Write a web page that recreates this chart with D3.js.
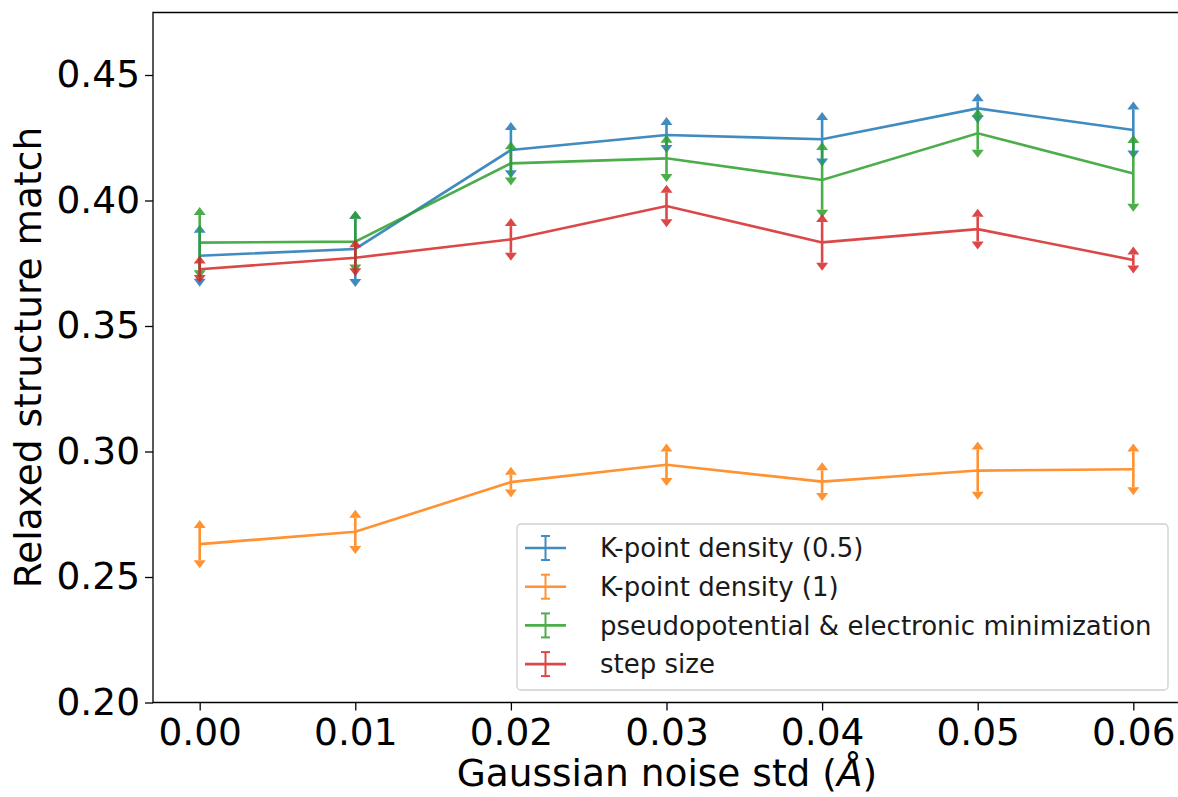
<!DOCTYPE html>
<html><head><meta charset="utf-8">
<script src="https://cdn.jsdelivr.net/npm/d3@7"></script>
<style>body{margin:0;background:#fff;} svg{display:block;font-family:"DejaVu Sans",sans-serif;}</style>
</head><body>
<svg id="chart" width="1178" height="797"></svg>
<script>
const noise = [0.00, 0.01, 0.02, 0.03, 0.04, 0.05, 0.06];
const seriesNames = ["K-point density (0.5)", "K-point density (1)", "pseudopotential & electronic minimization", "step size"];
const kp05 = [0.3780, 0.3807, 0.4201, 0.4261, 0.4244, 0.4367, 0.4281];
const kp05Err = [0.0092, 0.0120, 0.0080, 0.0040, 0.0077, 0.0028, 0.0082];
const kp1 = [0.2631, 0.2680, 0.2878, 0.2947, 0.2880, 0.2924, 0.2929];
const kp1Err = [0.0064, 0.0056, 0.0029, 0.0053, 0.0045, 0.0084, 0.0071];
const pseudo = [0.3832, 0.3836, 0.4148, 0.4168, 0.4082, 0.4268, 0.4108];
const pseudoErr = [0.0110, 0.0091, 0.0056, 0.0062, 0.0119, 0.0066, 0.0121];
const step = [0.3726, 0.3772, 0.3845, 0.3978, 0.3833, 0.3886, 0.3763];
const stepErr = [0.0023, 0.0042, 0.0053, 0.0053, 0.0081, 0.0049, 0.0022];
const xTicks = [0.00, 0.01, 0.02, 0.03, 0.04, 0.05, 0.06];
const yTicks = [0.20, 0.25, 0.30, 0.35, 0.40, 0.45];
const colors = ["#1f77b4", "#ff7f0e", "#2ca02c", "#d62728"];

const series = [
  {name: seriesNames[0], vals: kp05, errs: kp05Err, color: colors[0]},
  {name: seriesNames[1], vals: kp1, errs: kp1Err, color: colors[1]},
  {name: seriesNames[2], vals: pseudo, errs: pseudoErr, color: colors[2]},
  {name: seriesNames[3], vals: step, errs: stepErr, color: colors[3]}
];

const svg = d3.select("#chart");
const L = 153, R = 1180, T = 12.5, B = 702.5;
const x = d3.scaleLinear().domain([-0.003, 0.063]).range([L, R]);
const y = d3.scaleLinear().domain([0.20, 0.4749]).range([B, T]);

const fs = 37.5;
// axes
const xAxis = svg.append("g").attr("transform", `translate(0,${B})`)
  .call(d3.axisBottom(x).tickValues(xTicks).tickFormat(d3.format(".2f")).tickSize(8).tickPadding(5));
const yAxis = svg.append("g").attr("transform", `translate(${L},0)`)
  .call(d3.axisLeft(y).tickValues(yTicks).tickFormat(d3.format(".2f")).tickSize(8).tickPadding(5));
[xAxis, yAxis].forEach(g => {
  g.select(".domain").remove();
  g.selectAll(".tick line").attr("stroke", "#000").attr("stroke-width", 1.3);
  g.selectAll(".tick text").attr("font-size", fs).attr("fill", "#000").attr("font-family", "DejaVu Sans");
});
xAxis.selectAll(".tick text").attr("dy", "0.78em");
// spines (left, top, bottom; right one lies outside the picture)
svg.append("path").attr("d", `M${R},${T} H${L} V${B} H${R}`)
  .attr("fill", "none").attr("stroke", "#000").attr("stroke-width", 1.3);

// axis labels
svg.append("text").attr("x", 667).attr("y", 786).attr("text-anchor", "middle")
  .attr("font-size", fs).attr("fill", "#000")
  .html('Gaussian noise std (<tspan font-style="italic">Å</tspan>)');
svg.append("text").attr("transform", `translate(41,${(T + B) / 2}) rotate(-90)`)
  .attr("text-anchor", "middle").attr("font-size", fs).attr("fill", "#000")
  .text("Relaxed structure match");

const plot = svg.append("g");
const line = d3.line().x((d, i) => x(noise[i])).y(d => y(d));
const aw = 6, ah = 8;
series.forEach(s => {
  const g = plot.append("g").attr("opacity", 0.85);
  g.append("path").datum(s.vals).attr("d", line).attr("fill", "none")
    .attr("stroke", s.color).attr("stroke-width", 2.6);
  s.vals.forEach((v, i) => {
    const cx = x(noise[i]);
    const yt = y(v + s.errs[i]), yb = y(v - s.errs[i]);
    g.append("line").attr("x1", cx).attr("x2", cx).attr("y1", yt).attr("y2", yb)
      .attr("stroke", s.color).attr("stroke-width", 2.6);
    g.append("path").attr("d", `M${cx - aw},${yt} L${cx},${yt - ah} L${cx + aw},${yt} Z`).attr("fill", s.color);
    g.append("path").attr("d", `M${cx - aw},${yb} L${cx},${yb + ah} L${cx + aw},${yb} Z`).attr("fill", s.color);
  });
});

// legend
const lg = svg.append("g");
lg.append("rect").attr("x", 517).attr("y", 524).attr("width", 651).attr("height", 166)
  .attr("rx", 4).attr("fill", "#fff").attr("fill-opacity", 0.8).attr("stroke", "#d0d0d0").attr("stroke-width", 1.3);
series.forEach((s, i) => {
  const cy = 548 + i * 38.7;
  const g = lg.append("g").attr("opacity", 0.85);
  g.append("line").attr("x1", 525).attr("x2", 566).attr("y1", cy).attr("y2", cy).attr("stroke", s.color).attr("stroke-width", 2.6);
  g.append("line").attr("x1", 545.5).attr("x2", 545.5).attr("y1", cy - 12).attr("y2", cy + 12).attr("stroke", s.color).attr("stroke-width", 2);
  g.append("line").attr("x1", 541).attr("x2", 550).attr("y1", cy - 12).attr("y2", cy - 12).attr("stroke", s.color).attr("stroke-width", 2);
  g.append("line").attr("x1", 541).attr("x2", 550).attr("y1", cy + 12).attr("y2", cy + 12).attr("stroke", s.color).attr("stroke-width", 2);
  lg.append("text").attr("x", 600).attr("y", cy).attr("dy", "0.36em").attr("font-size", 26)
    .attr("fill", "#1a1a1a").text(s.name);
});
</script>
</body></html>
